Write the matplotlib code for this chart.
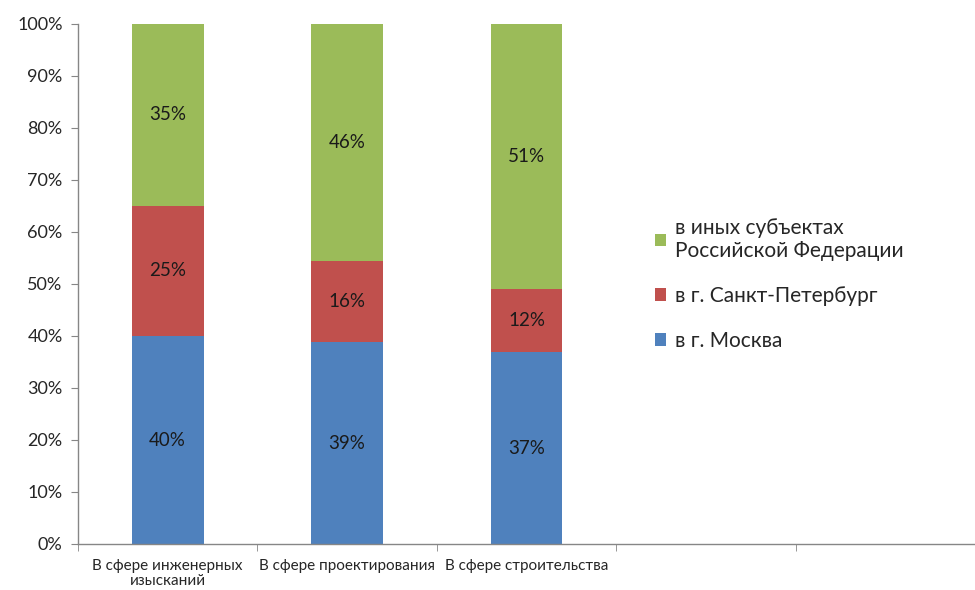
import matplotlib
matplotlib.use("Agg")
import matplotlib.pyplot as plt
import numpy as np

plt.rcParams['font.family'] = ['Lato', 'Open Sans', 'DejaVu Sans']

# data (shares, %)
categories = ["В сфере инженерных\nизысканий", "В сфере проектирования", "В сфере строительства", "", ""]
moscow = [40, 38.8, 36.9]
spb = [25, 15.6, 12.1]
other = [35, 45.6, 51.0]
series_names = ["в г. Москва", "в г. Санкт-Петербург", "в иных субъектах\nРоссийской Федерации"]
colors = ["#4F81BD", "#C0504D", "#9BBB59"]
yticks = np.arange(0, 101, 10)

fig = plt.figure(figsize=(9.75, 5.9), dpi=100)
ax = fig.add_axes([78 / 975, 46 / 590, 1 - 78 / 975, 520 / 590])

x = np.arange(len(moscow))
bottom = np.zeros(len(moscow))
bars = []
for vals, col, name in zip([moscow, spb, other], colors, series_names):
    vals = np.array(vals)
    b = ax.bar(x, vals, 0.4, bottom=bottom, color=col, label=name, zorder=2)
    for xi, v, bt in zip(x, vals, bottom):
        ax.text(xi, bt + v / 2, f"{round(v):.0f}%", ha="center", va="center",
                fontsize=13.5, color="#1a1a1a")
    bottom += vals
    bars.append(b)

ax.set_xlim(-0.5, 4.45)
ax.set_ylim(0, 100)
ax.set_yticks(yticks)
ax.set_yticklabels([f"{t}%" for t in yticks], fontsize=13, color="#262626")

ax.set_xticks(np.arange(len(categories)))
ax.set_xticklabels(categories, fontsize=11, color="#262626", linespacing=1.1)
ax.set_xticks(np.arange(len(categories) + 1) - 0.5, minor=True)
ax.tick_params(axis="x", which="major", length=0, pad=11)
ax.tick_params(axis="x", which="minor", length=5, color="#868686", direction="out")
ax.tick_params(axis="y", length=5, color="#868686", pad=6)

for s in ["top", "right"]:
    ax.spines[s].set_visible(False)
for s in ["left", "bottom"]:
    ax.spines[s].set_color("#868686")
    ax.spines[s].set_linewidth(1)

handles = bars[::-1]
labels = series_names[::-1]
fig.legend(handles, labels, loc="upper left", bbox_to_anchor=(636 / 975, 1 - 199 / 590),
           frameon=False, fontsize=15, handlelength=0.55, handleheight=0.55,
           handletextpad=0.4, labelspacing=1.2, labelcolor="#262626")

fig.savefig("out.png", dpi=100)
